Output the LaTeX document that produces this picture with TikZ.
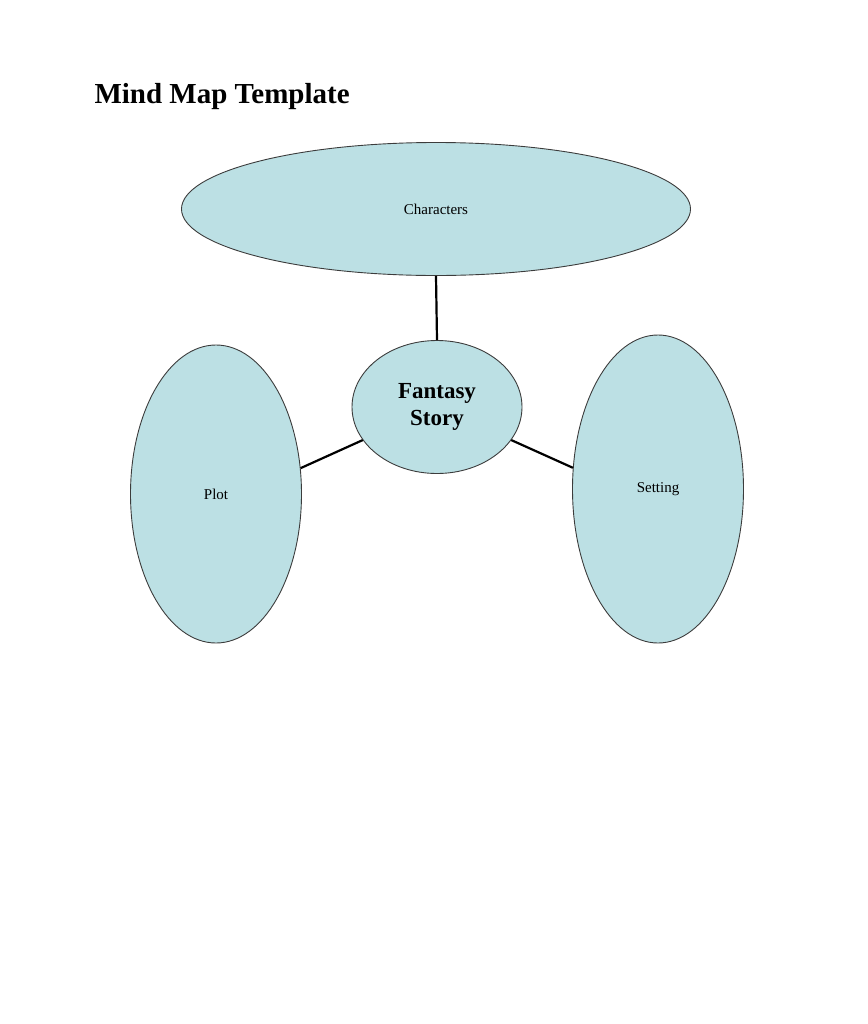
\documentclass[tikz,border=0pt]{standalone}
\usepackage{fontspec}
\setmainfont{Liberation Serif}
\usepackage{tikz}
\usetikzlibrary{shapes.geometric, positioning}
\definecolor{bubblefill}{RGB}{188,224,228}
\definecolor{bubbleline}{RGB}{60,60,60}
\tikzset{
  bubble/.style={ellipse, draw=bubbleline, line width=0.9bp, fill=bubblefill, inner sep=0pt},
  branch/.style={line width=2.2bp, black}
}
\begin{document}
\begin{tikzpicture}[x=1bp,y=-1bp]
\useasboundingbox (0,0) rectangle (868,1024);
\node[anchor=base west, font=\fontsize{29bp}{34bp}\selectfont\bfseries] (title) at (91,103) {Mind Map Template};
\node[bubble, minimum width=509bp, minimum height=133bp, font=\fontsize{15bp}{18bp}\selectfont] (chars) at (436,209) {Characters};
\node[bubble, minimum width=170bp, minimum height=133bp, align=center, font=\fontsize{23bp}{27bp}\selectfont\bfseries] (centre) at (437,407) {Fantasy\\Story};
\node[bubble, minimum width=171bp, minimum height=298bp, font=\fontsize{15bp}{18bp}\selectfont] (plot) at (216,494) {Plot};
\node[bubble, minimum width=171bp, minimum height=308bp, font=\fontsize{15bp}{18bp}\selectfont] (setting) at (658,489) {Setting};
\draw [branch](chars.south) -- (centre.north);
\draw [branch](centre.204) -- (plot.17);
\draw [branch](centre.336) -- (setting.166);
\end{tikzpicture}
\end{document}
